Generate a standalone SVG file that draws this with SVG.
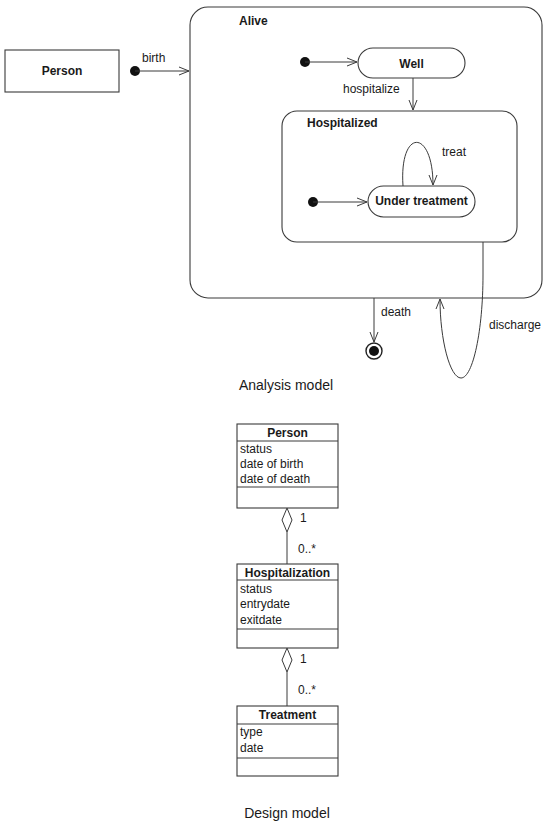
<svg xmlns="http://www.w3.org/2000/svg" width="547" height="830" viewBox="0 0 547 830">
<style>
.box{fill:#fff;stroke:#3a3a3a;stroke-width:1.1}
.cont{fill:none;stroke:#3a3a3a;stroke-width:1.1}
.ln{fill:none;stroke:#3a3a3a;stroke-width:1}
.b{font-family:"Liberation Sans",Arial,sans-serif;font-weight:bold;font-size:12px;fill:#1a1a1a}
.r{font-family:"Liberation Sans",Arial,sans-serif;font-size:12px;fill:#1a1a1a}
.cap{font-family:"Liberation Sans",Arial,sans-serif;font-size:14px;fill:#1a1a1a}
.dot{fill:#111}
</style>
<defs>
<marker id="open" viewBox="0 0 12 10" refX="11" refY="5" markerWidth="12" markerHeight="10" orient="auto" markerUnits="userSpaceOnUse">
<path d="M1,1 L11,5 L1,9" fill="none" stroke="#3a3a3a" stroke-width="1"/>
</marker>
</defs>
<rect width="547" height="830" fill="#fff"/>

<g id="person-left">
<rect class="box" x="5" y="50" width="114" height="42"/>
<text class="b" x="62" y="75" text-anchor="middle">Person</text>
</g>

<g id="alive">
<rect class="cont" x="190" y="7" width="352" height="291" rx="18"/>
<text class="b" x="239" y="25">Alive</text>
</g>

<g id="init-well"><circle class="dot" cx="305" cy="62" r="5"/></g>
<g id="well">
<rect class="box" x="358" y="48" width="107" height="30" rx="15"/>
<text class="b" x="411.5" y="67.5" text-anchor="middle">Well</text>
</g>

<g id="hospitalized">
<rect class="cont" x="282" y="111" width="235" height="131" rx="15"/>
<text class="b" x="307" y="127">Hospitalized</text>
</g>

<g id="init-treat"><circle class="dot" cx="313" cy="202" r="5"/></g>
<g id="under-treatment">
<rect class="box" x="368" y="186" width="107" height="31" rx="15.5"/>
<text class="b" x="421.5" y="205" text-anchor="middle">Under treatment</text>
</g>

<g id="init-birth"><circle class="dot" cx="135" cy="71" r="5"/></g>

<g id="final">
<circle cx="374" cy="351" r="8" fill="#fff" stroke="#222" stroke-width="1.4"/>
<circle class="dot" cx="374" cy="351" r="5"/>
</g>

<g id="class-person">
<rect class="box" x="237" y="424" width="101" height="84"/>
<line class="ln" x1="237" y1="441" x2="338" y2="441"/>
<line class="ln" x1="237" y1="487" x2="338" y2="487"/>
<text class="b" x="287.5" y="437" text-anchor="middle">Person</text>
<text class="r" x="240" y="453">status</text>
<text class="r" x="240" y="468">date of birth</text>
<text class="r" x="240" y="483">date of death</text>
</g>

<g id="class-hospitalization">
<rect class="box" x="237" y="564" width="101" height="84"/>
<line class="ln" x1="237" y1="580" x2="338" y2="580"/>
<line class="ln" x1="237" y1="629" x2="338" y2="629"/>
<text class="b" x="287.5" y="577" text-anchor="middle">Hospitalization</text>
<text class="r" x="240" y="593">status</text>
<text class="r" x="240" y="608">entrydate</text>
<text class="r" x="240" y="624">exitdate</text>
</g>

<g id="class-treatment">
<rect class="box" x="237" y="706" width="101" height="70"/>
<line class="ln" x1="237" y1="724" x2="338" y2="724"/>
<line class="ln" x1="237" y1="758" x2="338" y2="758"/>
<text class="b" x="287.5" y="719" text-anchor="middle">Treatment</text>
<text class="r" x="240" y="736">type</text>
<text class="r" x="240" y="752">date</text>
</g>

<g id="connectors">
<line class="ln" x1="135" y1="71" x2="189" y2="71" marker-end="url(#open)"/>
<text class="r" x="142" y="62">birth</text>
<line class="ln" x1="305" y1="62" x2="357" y2="62" marker-end="url(#open)"/>
<line class="ln" x1="413" y1="78" x2="413" y2="110" marker-end="url(#open)"/>
<text class="r" x="343" y="93">hospitalize</text>
<line class="ln" x1="313" y1="202" x2="367" y2="202" marker-end="url(#open)"/>
<path class="ln" d="M403,186 C399,128 433,128 433,185" marker-end="url(#open)"/>
<text class="r" x="442" y="156">treat</text>
<line class="ln" x1="374" y1="298" x2="374" y2="342" marker-end="url(#open)"/>
<text class="r" x="381" y="316">death</text>
<path class="ln" d="M483,242 L483,275 C483,330 473,378 461,378 C450,378 440,340 440,299" marker-end="url(#open)"/>
<text class="r" x="489" y="329">discharge</text>
<path d="M287,508 L292,520 L287,532 L282,520 Z" fill="#fff" stroke="#3a3a3a" stroke-width="1"/>
<line class="ln" x1="287" y1="532" x2="287" y2="564"/>
<text class="r" x="300" y="522">1</text>
<text class="r" x="298" y="553">0..*</text>
<path d="M287,648 L292,660 L287,672 L282,660 Z" fill="#fff" stroke="#3a3a3a" stroke-width="1"/>
<line class="ln" x1="287" y1="672" x2="287" y2="706"/>
<text class="r" x="300" y="663">1</text>
<text class="r" x="298" y="694">0..*</text>
</g>

<text class="cap" x="286" y="390" text-anchor="middle">Analysis model</text>
<text class="cap" x="287" y="818" text-anchor="middle">Design model</text>
</svg>
